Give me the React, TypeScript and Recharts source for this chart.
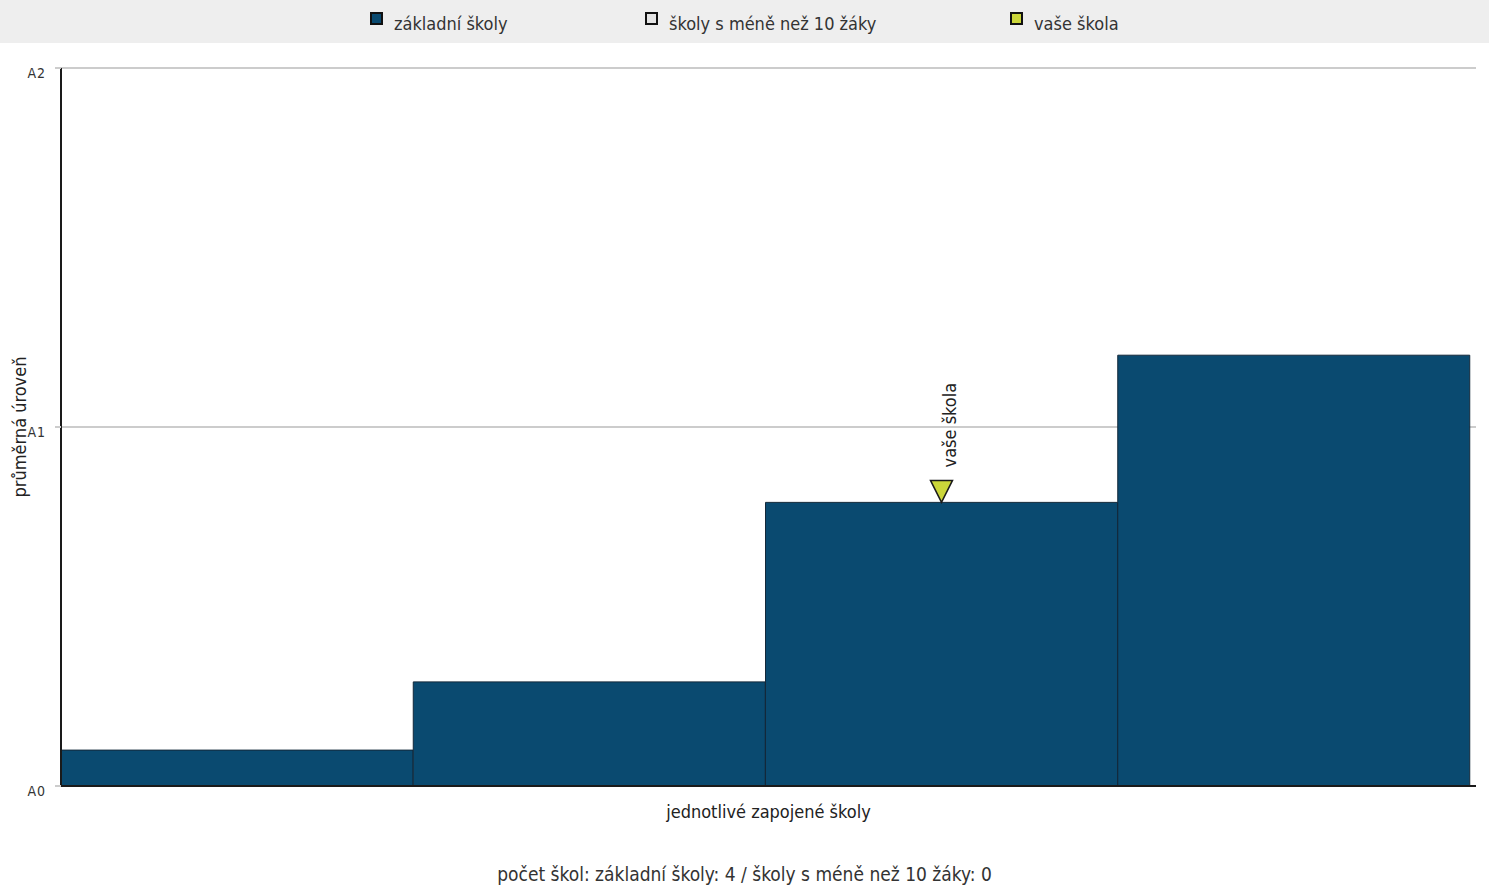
import { Bar, BarChart, CartesianGrid, LabelList, XAxis, YAxis } from "recharts";

const FONT = "'DejaVu Sans Condensed', 'DejaVu Sans', sans-serif";

const schools = ["škola 1", "škola 2", "škola 3", "škola 4"];
const levels = [0.1, 0.29, 0.79, 1.2];
const isYourSchool = [false, false, true, false];
const levelTicks = [0, 1, 2];
const levelNames = ["A0", "A1", "A2"];

const legendItems = [
  { label: "základní školy", color: "#0a4a70" },
  { label: "školy s méně než 10 žáky", color: "#e4e4e4" },
  { label: "vaše škola", color: "#cbd63a" },
];

const data = schools.map((name, i) => ({ name, level: levels[i], mine: isYourSchool[i] }));

function YourSchoolMark(props: any) {
  const { x, y, width, index } = props;
  if (!isYourSchool[index]) return null;
  const cx = x + width / 2;
  return (
    <g>
      <polygon
        points={`${cx - 11},${y - 22} ${cx + 11},${y - 22} ${cx},${y}`}
        fill="#cbd63a"
        stroke="#1a1a1a"
        strokeWidth={1.5}
      />
      <text
        x={cx + 15}
        y={y - 35}
        transform={`rotate(-90 ${cx + 15} ${y - 35})`}
        fontSize={18}
        fill="#222"
        fontFamily={FONT}
      >
        vaše škola
      </text>
    </g>
  );
}

function LevelTick(props: any) {
  const { x, y, payload } = props;
  return (
    <text x={x} y={y} dy={10} textAnchor="end" fontSize={14} fill="#333" fontFamily={FONT} letterSpacing={1}>
      {levelNames[payload.value]}
    </text>
  );
}

export default function App() {
  return (
    <div
      style={{
        position: "absolute",
        left: 0,
        top: 0,
        width: 1489,
        height: 887,
        background: "#fff",
        fontFamily: FONT,
        fontStretch: "condensed",
      }}
    >
      <div style={{ position: "absolute", left: 0, top: 0, width: 1489, height: 43, background: "#eeeeee" }}>
        {legendItems.map((item, i) => (
          <div
            key={item.label}
            style={{
              position: "absolute",
              left: [370, 645, 1010][i],
              top: 13,
              display: "flex",
              alignItems: "center",
              fontSize: 18,
              color: "#333",
              whiteSpace: "nowrap",
            }}
          >
            <span
              style={{
                display: "inline-block",
                width: 9,
                height: 9,
                background: item.color,
                border: "2px solid #111",
                marginRight: 11,
                position: "relative",
                top: -5,
              }}
            />
            {item.label}
          </div>
        ))}
      </div>
      <BarChart
        width={1489}
        height={887}
        data={data}
        barCategoryGap={0}
        margin={{ top: 68, right: 13, bottom: 71, left: 11 }}
      >
        <CartesianGrid horizontal vertical={false} stroke="#cccccc" strokeWidth={2} />
        <XAxis
          dataKey="name"
          tick={false}
          tickLine={false}
          height={30}
          padding={{ left: 0, right: 6 }}
          axisLine={{ stroke: "#1a1a1a", strokeWidth: 2 }}
          label={{ value: "jednotlivé zapojené školy", position: "insideBottom", offset: 0, dy: 2, fontSize: 18, fill: "#222", fontFamily: FONT }}
        />
        <YAxis
          type="number"
          domain={[0, 2]}
          ticks={levelTicks}
          width={50}
          tick={<LevelTick />}
          tickSize={6}
          tickMargin={9}
          tickLine={{ stroke: "#cccccc", strokeWidth: 2 }}
          axisLine={{ stroke: "#1a1a1a", strokeWidth: 2 }}
          label={{
            value: "průměrná úroveň",
            angle: -90,
            position: "insideLeft",
            offset: 9,
            textAnchor: "middle",
            fontSize: 18,
            fill: "#222",
            fontFamily: FONT,
          }}
        />
        <Bar dataKey="level" fill="#0a4a70" stroke="#13283a" strokeWidth={1} isAnimationActive={false}>
          <LabelList dataKey="level" content={YourSchoolMark} />
        </Bar>
      </BarChart>
      <div
        style={{
          position: "absolute",
          left: 0,
          top: 863,
          width: 1489,
          textAlign: "center",
          fontSize: 19,
          color: "#333",
        }}
      >
        počet škol: základní školy: 4 / školy s méně než 10 žáky: 0
      </div>
    </div>
  );
}
